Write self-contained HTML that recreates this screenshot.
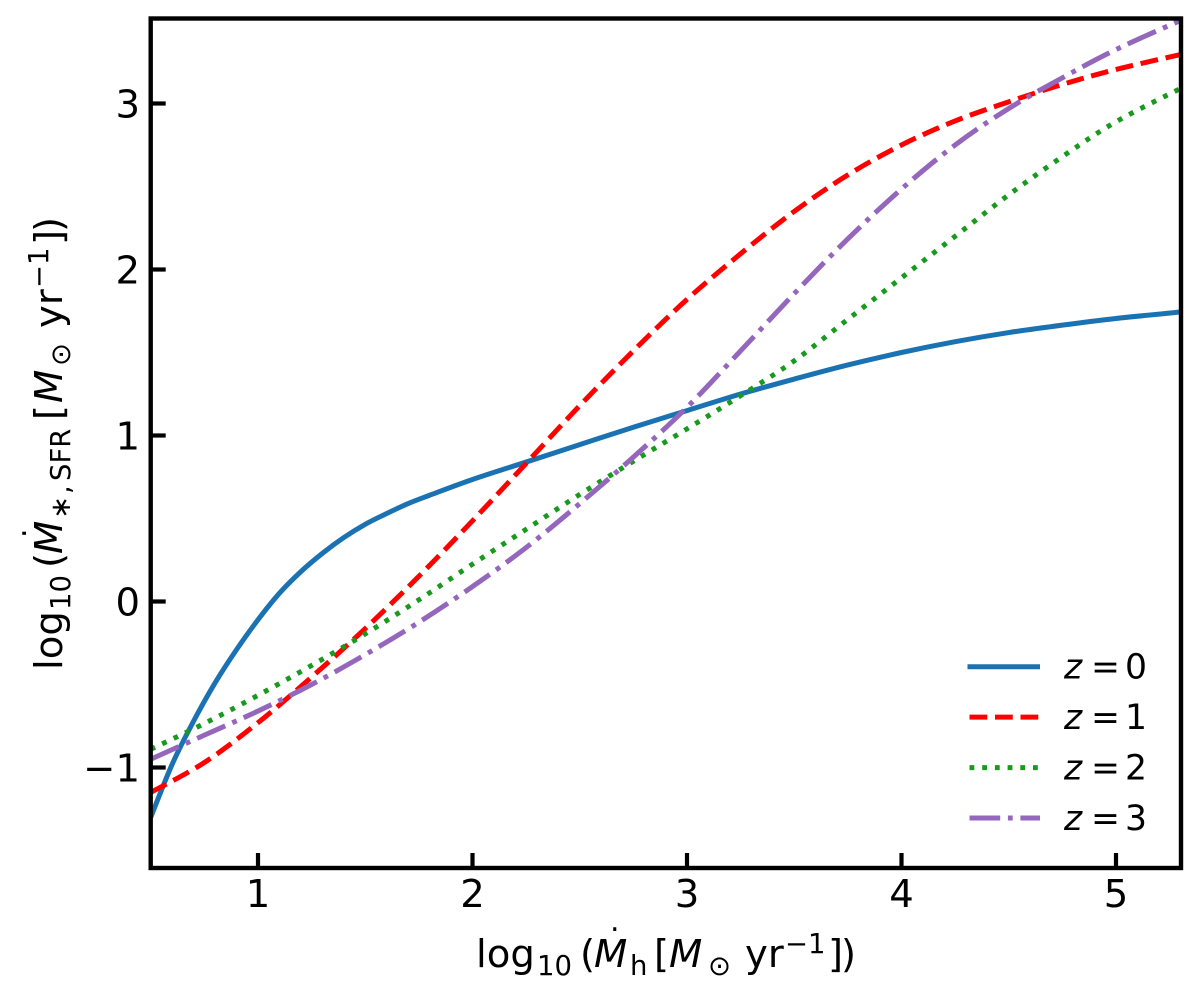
<!DOCTYPE html>
<html lang="en">
<head>
<meta charset="utf-8">
<title>Star formation rate vs halo accretion rate</title>
<style>
html,body{margin:0;padding:0;background:#fff;}
svg{display:block;}
text{font-family:"DejaVu Sans","Liberation Sans",sans-serif;fill:#000;}
.i{font-style:oblique;}
.t{font-size:38.6px;}
.s{font-size:27.5px;}
.l{font-size:34.6px;}
</style>
</head>
<body>
<svg id="chart" width="1200" height="998" viewBox="0 0 1200 998" xmlns="http://www.w3.org/2000/svg">
  <defs>
    <clipPath id="plot-clip"><rect x="150.7" y="18.5" width="1030.3" height="849.5"/></clipPath>
  </defs>
  <rect x="0" y="0" width="1200" height="998" fill="#fff"/>
  <g id="series-layer" clip-path="url(#plot-clip)"></g>
  <g id="tick-layer"></g>
  <rect x="150.7" y="18.5" width="1030.3" height="849.5" fill="none" stroke="#000" stroke-width="4.4"/>

  <g>
    <text class="t" x="476" y="967">log</text>
    <text class="s" x="537" y="975">10</text>
    <text class="t" x="580" y="967">(</text>
    <text class="t i" x="594" y="967">M</text>
    <text x="610" y="931" font-size="30">.</text>
    <text class="s" x="630" y="975">h</text>
    <text class="t" x="654" y="967">[</text>
    <text class="t i" x="669" y="967">M</text>
    <text class="s" x="708" y="975">⊙</text>
    <text class="t" x="745" y="967">yr</text>
    <text class="s" x="785" y="953">−1</text>
    <text class="t" x="828" y="967">]</text>
    <text class="t" x="841" y="967">)</text>
  </g>

  <g transform="translate(62,670) rotate(-90)">
    <text class="t" x="0" y="0">log</text>
    <text class="s" x="60" y="8">10</text>
    <text class="t" x="102" y="0">(</text>
    <text class="t i" x="116" y="0">M</text>
    <text x="132" y="-36" font-size="30">.</text>
    <text class="s" x="151" y="8">∗</text>
    <text class="s" x="176" y="8">,</text>
    <text class="s" x="189" y="8">SFR</text>
    <text class="t" x="250" y="0">[</text>
    <text class="t i" x="267" y="0">M</text>
    <text class="s" x="304" y="8">⊙</text>
    <text class="t" x="342" y="0">yr</text>
    <text class="s" x="382" y="-14">−1</text>
    <text class="t" x="425" y="0">]</text>
    <text class="t" x="438" y="0">)</text>
  </g>

  <g id="legend"></g>
</svg>
<script>
const xTicks = [1, 2, 3, 4, 5];
const xTickLabels = ["1", "2", "3", "4", "5"];
const yTicks = [-1, 0, 1, 2, 3];
const yTickLabels = ["−1", "0", "1", "2", "3"];

const z0X = [0.5, 0.6, 0.7, 0.8, 0.9, 1.0, 1.1, 1.2, 1.3, 1.4, 1.5, 1.6, 1.7, 1.8, 2, 2.25, 2.5, 2.75, 3, 3.25, 3.5, 3.75, 4, 4.25, 4.5, 4.75, 5, 5.3];
const z0Y = [-1.30, -0.98, -0.72, -0.49, -0.29, -0.11, 0.05, 0.18, 0.29, 0.385, 0.465, 0.53, 0.59, 0.64, 0.735, 0.84, 0.945, 1.05, 1.15, 1.25, 1.34, 1.425, 1.50, 1.565, 1.62, 1.665, 1.705, 1.744];

const z1X = [0.5, 0.75, 1, 1.25, 1.5, 1.75, 2, 2.25, 2.5, 2.75, 3, 3.25, 3.5, 3.75, 4, 4.25, 4.5, 4.75, 5, 5.3];
const z1Y = [-1.15, -0.97, -0.73, -0.455, -0.163, 0.152, 0.486, 0.832, 1.18, 1.51, 1.82, 2.095, 2.35, 2.57, 2.75, 2.895, 3.01, 3.115, 3.205, 3.295];

const z2X = [0.5, 0.75, 1, 1.25, 1.5, 1.75, 2, 2.25, 2.5, 2.75, 3, 3.25, 3.5, 3.75, 4, 4.25, 4.5, 4.75, 5, 5.3];
const z2Y = [-0.89, -0.735, -0.565, -0.385, -0.195, 0.01, 0.225, 0.435, 0.645, 0.845, 1.04, 1.24, 1.45, 1.70, 1.95, 2.2, 2.45, 2.68, 2.89, 3.09];

const z3X = [0.5, 0.75, 1, 1.25, 1.5, 1.75, 2, 2.25, 2.5, 2.75, 3, 3.25, 3.5, 3.75, 4, 4.25, 4.5, 4.75, 5, 5.3];
const z3Y = [-0.95, -0.805, -0.66, -0.50, -0.32, -0.125, 0.09, 0.325, 0.59, 0.87, 1.17, 1.51, 1.855, 2.185, 2.485, 2.75, 2.97, 3.155, 3.325, 3.5];

const legendLabels = ["0", "1", "2", "3"];

const NS = 'http://www.w3.org/2000/svg';
function sx(v) { return 258 + (v - 1) * 214.5; }
function sy(v) { return 601.5 - v * 166; }

function smoothPath(xs, ys) {
  const p = xs.map((x, i) => [sx(x), sy(ys[i])]);
  let d = 'M' + p[0][0].toFixed(2) + ' ' + p[0][1].toFixed(2);
  for (let i = 0; i < p.length - 1; i++) {
    const a = p[Math.max(i - 1, 0)], b = p[i], c = p[i + 1], e = p[Math.min(i + 2, p.length - 1)];
    const c1x = b[0] + (c[0] - a[0]) / 6, c1y = b[1] + (c[1] - a[1]) / 6;
    const c2x = c[0] - (e[0] - b[0]) / 6, c2y = c[1] - (e[1] - b[1]) / 6;
    d += 'C' + c1x.toFixed(2) + ' ' + c1y.toFixed(2) + ' ' + c2x.toFixed(2) + ' ' + c2y.toFixed(2) + ' ' + c[0].toFixed(2) + ' ' + c[1].toFixed(2);
  }
  return d;
}

const seriesLayer = document.getElementById('series-layer');
const tickLayer = document.getElementById('tick-layer');
const legend = document.getElementById('legend');

function strokeStyle(el, color, dash) {
  el.setAttribute('fill', 'none');
  el.setAttribute('stroke', color);
  el.setAttribute('stroke-width', '5');
  el.setAttribute('stroke-linejoin', 'round');
  if (dash) el.setAttribute('stroke-dasharray', dash);
}

const line0 = document.createElementNS(NS, 'path');


line0.setAttribute('d', smoothPath(z0X, z0Y));
strokeStyle(line0, '#1b72b2', '');
seriesLayer.appendChild(line0);

const line1 = document.createElementNS(NS, 'path');


line1.setAttribute('d', smoothPath(z1X, z1Y));
strokeStyle(line1, '#ff0000', '17.8 7.7');
seriesLayer.appendChild(line1);

const line2 = document.createElementNS(NS, 'path');


line2.setAttribute('d', smoothPath(z2X, z2Y));
strokeStyle(line2, '#189a1e', '4.8 7.9');
seriesLayer.appendChild(line2);

const line3 = document.createElementNS(NS, 'path');


line3.setAttribute('d', smoothPath(z3X, z3Y));
strokeStyle(line3, '#9467bd', '30.7 7.7 4.8 7.7');
seriesLayer.appendChild(line3);

xTicks.forEach(function (v, i) {
  const t = document.createElementNS(NS, 'line');
  
  
  t.setAttribute('x1', sx(v));
  t.setAttribute('x2', sx(v));
  t.setAttribute('y1', 868);
  t.setAttribute('y2', 853);
  t.setAttribute('stroke', '#000');
  t.setAttribute('stroke-width', '4.2');
  tickLayer.appendChild(t);
  const l = document.createElementNS(NS, 'text');
  
  
  l.setAttribute('class', 't');
  l.setAttribute('x', sx(v));
  l.setAttribute('y', 907);
  l.setAttribute('text-anchor', 'middle');
  l.textContent = xTickLabels[i];
  tickLayer.appendChild(l);
});

yTicks.forEach(function (v, i) {
  const t = document.createElementNS(NS, 'line');
  
  
  t.setAttribute('x1', 150.7);
  t.setAttribute('x2', 165.7);
  t.setAttribute('y1', sy(v));
  t.setAttribute('y2', sy(v));
  t.setAttribute('stroke', '#000');
  t.setAttribute('stroke-width', '4.2');
  tickLayer.appendChild(t);
  const l = document.createElementNS(NS, 'text');
  
  
  l.setAttribute('class', 't');
  l.setAttribute('x', 140);
  l.setAttribute('y', sy(v) + 14);
  l.setAttribute('text-anchor', 'end');
  l.textContent = yTickLabels[i];
  tickLayer.appendChild(l);
});

const legendColors = ['#1b72b2', '#ff0000', '#189a1e', '#9467bd'];
const legendDashes = ['', '17.8 7.7', '4.8 7.9', '30.7 7.7 4.8 7.7'];
legendLabels.forEach(function (lab, i) {
  const y = 666.7 + i * 50.45;
  const s = document.createElementNS(NS, 'line');
  
  
  s.setAttribute('x1', i === 0 ? 967.5 : 969.5);
  s.setAttribute('x2', 1040);
  s.setAttribute('y1', y);
  s.setAttribute('y2', y);
  strokeStyle(s, legendColors[i], legendDashes[i]);
  legend.appendChild(s);
  const z = document.createElementNS(NS, 'text');
  
  
  z.setAttribute('class', 'l');
  z.setAttribute('y', y + 12);
  const a = document.createElementNS(NS, 'tspan');
  a.setAttribute('class', 'i');
  a.setAttribute('x', 1064);
  a.textContent = 'z';
  const b = document.createElementNS(NS, 'tspan');
  b.setAttribute('x', 1091);
  b.textContent = '=';
  const c = document.createElementNS(NS, 'tspan');
  c.setAttribute('x', 1125);
  c.textContent = lab;
  z.appendChild(a);
  z.appendChild(b);
  z.appendChild(c);
  legend.appendChild(z);
});
</script>
</body>
</html>
